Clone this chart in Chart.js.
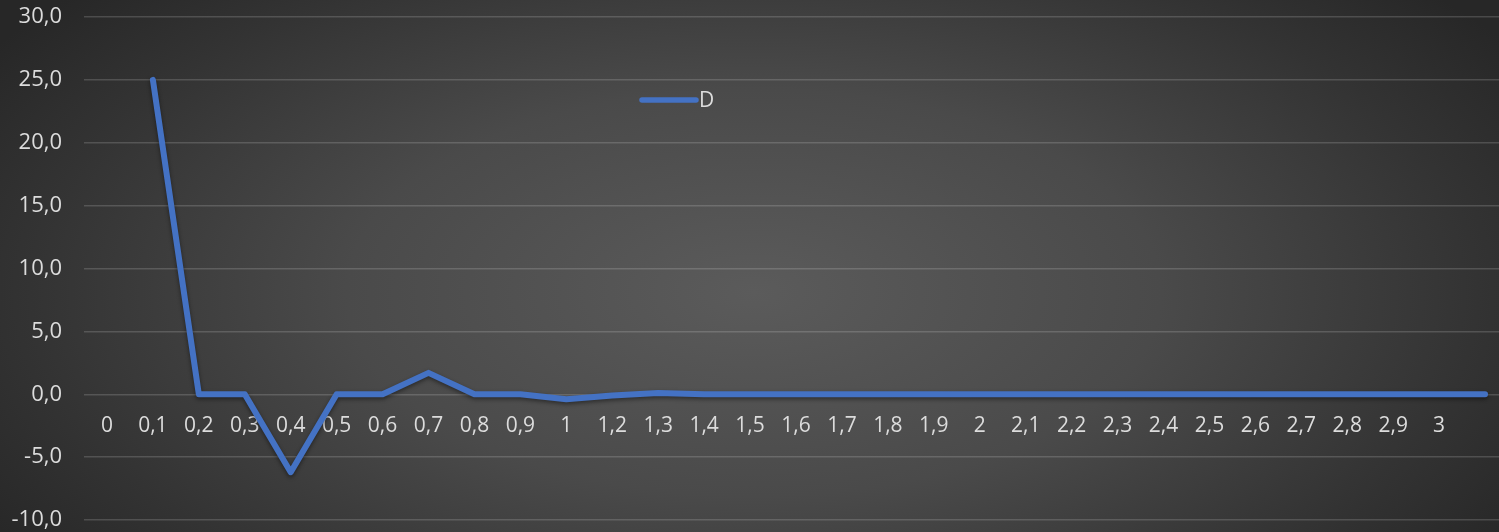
<!DOCTYPE html>
<html lang="de">
<head>
    <meta charset="UTF-8">
    <title>D</title>
    <script src="https://cdn.jsdelivr.net/npm/chart.js"></script>
    <style>
        html, body { margin: 0; padding: 0; overflow: hidden; background: #2b2b2b; }
        #wrap { width: 1508px; height: 532px; }
        #lineChart {
            background: radial-gradient(ellipse 60% 85% at 50% 55%, #5b5b5b 0%, #4a4a4a 45%, #333333 80%, #272727 100%);
        }
    </style>
</head>
<body>
<div id="wrap"><canvas id="lineChart" width="1508" height="532"></canvas></div>

<script>
    // Kategorien der x-Achse (1,1 fehlt im Original, letzte Kategorie ohne Beschriftung)
    var kategorien = ['0', '0,1', '0,2', '0,3', '0,4', '0,5', '0,6', '0,7', '0,8', '0,9',
        '1', '1,2', '1,3', '1,4', '1,5', '1,6', '1,7', '1,8', '1,9',
        '2', '2,1', '2,2', '2,3', '2,4', '2,5', '2,6', '2,7', '2,8', '2,9', '3', ''];

    // Werte der Reihe D
    var werteD = [null, 25, 0, 0, -6.2, 0, 0, 1.7, 0, 0,
        -0.4, -0.1, 0.1, 0, 0, 0, 0, 0, 0,
        0, 0, 0, 0, 0, 0, 0, 0, 0, 0, 0, 0];

    // y-Achse
    var yMin = -10;
    var yMax = 30;
    var yStep = 5;

    var textFarbe = '#dcdcdc';
    var linienFarbe = '#4472C4';
    var familie = '"Open Sans", "Noto Sans", sans-serif';

    // Schatten unter der Linie
    var schattenPlugin = {
        id: 'schatten',
        beforeDatasetsDraw: function (chart) {
            var ctx = chart.ctx;
            ctx.save();
            ctx.shadowColor = 'rgba(0,0,0,0.45)';
            ctx.shadowBlur = 4;
            ctx.shadowOffsetY = 2;
        },
        afterDatasetsDraw: function (chart) {
            chart.ctx.restore();
        }
    };

    // Legende innerhalb der Zeichenfläche
    var legendePlugin = {
        id: 'legendeInnen',
        afterDraw: function (chart) {
            var ctx = chart.ctx;
            var ds = chart.data.datasets[0];
            var x = 642, y = 100;
            ctx.save();
            ctx.strokeStyle = ds.borderColor;
            ctx.lineWidth = 5.5;
            ctx.lineCap = 'round';
            ctx.beginPath();
            ctx.moveTo(x, y);
            ctx.lineTo(x + 54, y);
            ctx.stroke();
            ctx.fillStyle = textFarbe;
            ctx.font = '21px ' + familie;
            ctx.textBaseline = 'middle';
            ctx.fillText(ds.label, x + 57, y + 1);
            ctx.restore();
        }
    };

    var config = {
        type: 'line',
        data: {
            labels: kategorien,
            datasets: [{
                label: 'D',
                data: werteD,
                borderColor: linienFarbe,
                backgroundColor: linienFarbe,
                borderWidth: 6,
                borderJoinStyle: 'round',
                borderCapStyle: 'round',
                pointRadius: 0,
                fill: false,
                tension: 0
            }]
        },
        options: {
            responsive: false,
            animation: false,
            layout: { padding: { top: 17, bottom: 12, left: 0, right: 0 } },
            plugins: {
                legend: { display: false },
                tooltip: { enabled: false }
            },
            scales: {
                x: {
                    type: 'category',
                    offset: true,
                    position: { y: 0 },
                    afterFit: function (scale) { scale.height = 0; },
                    grid: { display: false },
                    border: { display: false },
                    ticks: {
                        color: textFarbe,
                        font: { family: familie, size: 21 },
                        autoSkip: false,
                        maxRotation: 0,
                        padding: 11
                    }
                },
                y: {
                    min: yMin,
                    max: yMax,
                    afterFit: function (scale) {
                        scale.width = 84;
                        scale.paddingTop = 0;
                        scale.paddingBottom = 0;
                    },
                    grid: {
                        color: 'rgba(255,255,255,0.16)',
                        lineWidth: 1.5,
                        drawTicks: false
                    },
                    border: { display: false },
                    ticks: {
                        stepSize: yStep,
                        color: textFarbe,
                        font: { family: familie, size: 22 },
                        padding: 22,
                        callback: function (v) { return v.toFixed(1).replace('.', ','); }
                    }
                }
            }
        },
        plugins: [schattenPlugin, legendePlugin]
    };

    var myChart = new Chart(document.getElementById('lineChart'), config);
</script>
</body>
</html>
